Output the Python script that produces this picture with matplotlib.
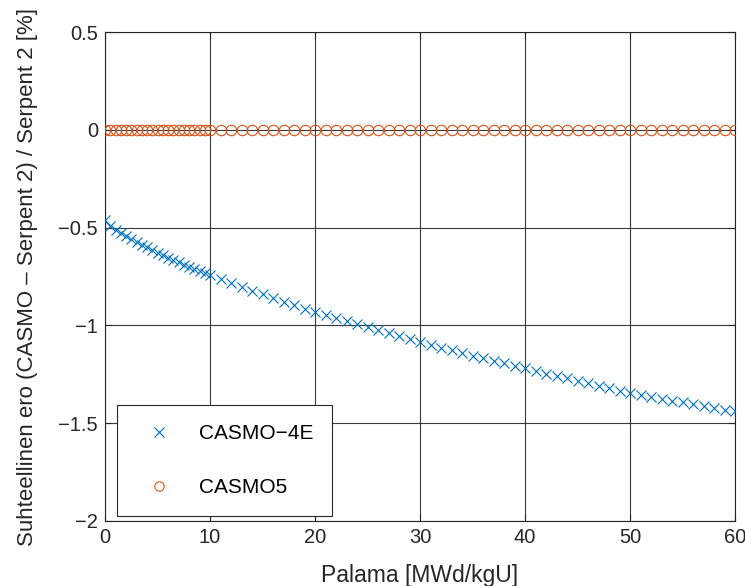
import matplotlib
matplotlib.use("Agg")
import matplotlib.pyplot as plt
import numpy as np

plt.rcParams['font.family'] = ['Liberation Sans', 'DejaVu Sans']
plt.rcParams['axes.unicode_minus'] = True

burnup = [0, 0.5, 1, 1.5, 2, 2.5, 3, 3.5, 4, 4.5, 5, 5.5, 6, 6.5, 7, 7.5, 8, 8.5, 9, 9.5,
          10, 11, 12, 13, 14, 15, 16, 17, 18, 19, 20, 21, 22, 23, 24, 25, 26, 27, 28, 29,
          30, 31, 32, 33, 34, 35, 36, 37, 38, 39, 40, 41, 42, 43, 44, 45, 46, 47, 48, 49,
          50, 51, 52, 53, 54, 55, 56, 57, 58, 59, 60]

casmo4e = [-0.460, -0.490, -0.510, -0.530, -0.545, -0.560, -0.575, -0.590, -0.600, -0.615,
           -0.630, -0.640, -0.655, -0.665, -0.675, -0.690, -0.700, -0.710, -0.720, -0.730,
           -0.740, -0.761, -0.782, -0.802, -0.822, -0.842, -0.861, -0.879, -0.897, -0.914,
           -0.930, -0.946, -0.962, -0.978, -0.994, -1.009, -1.024, -1.040, -1.055, -1.070,
           -1.085, -1.099, -1.113, -1.127, -1.140, -1.154, -1.168, -1.181, -1.194, -1.207,
           -1.220, -1.233, -1.246, -1.259, -1.271, -1.284, -1.296, -1.309, -1.321, -1.333,
           -1.345, -1.355, -1.365, -1.375, -1.385, -1.394, -1.403, -1.412, -1.421, -1.430,
           -1.440]

casmo5 = [0.0] * len(burnup)

xticks = [0, 10, 20, 30, 40, 50, 60]
yticks = [-2, -1.5, -1, -0.5, 0, 0.5]
ytick_labels = ['\u22122', '\u22121.5', '\u22121', '\u22120.5', '0', '0.5']

fig = plt.figure(figsize=(7.45, 5.86), dpi=100)
ax = fig.add_axes([105/745, 1 - 521/586, 630/745, 489/586])

ax.plot(burnup, casmo4e, linestyle='none', marker='x', markersize=7.5, markeredgewidth=0.8,
        color='#0072BD', label='CASMO\u22124E', zorder=3)
ax.plot(burnup, casmo5, linestyle='none', marker='o', markersize=7.5, markeredgewidth=0.8,
        markerfacecolor='none', color='#D95319', label='CASMO5', zorder=3)

ax.set_xlim(0, 60)
ax.set_ylim(-2, 0.5)
ax.set_xticks(xticks)
ax.set_yticks(yticks)
ax.set_yticklabels(ytick_labels)
ax.tick_params(direction='in', labelsize=14.5, length=5, width=0.8, top=True, right=True,
               colors='#262626', labelcolor='#262626', pad=5)
ax.grid(True, color='#262626', linewidth=0.8, alpha=0.9)
ax.set_axisbelow(True)
for s in ax.spines.values():
    s.set_color('#262626')
    s.set_linewidth(0.8)

ax.set_xlabel('Palama [MWd/kgU]', fontsize=16.5, color='#262626', labelpad=12)
ax.set_ylabel('Suhteellinen ero (CASMO \u2013 Serpent 2) / Serpent 2 [%]', fontsize=16,
              color='#262626', labelpad=15)

leg = ax.legend(loc='lower left', bbox_to_anchor=(12/630, 5/489), fontsize=15,
                frameon=True, fancybox=False, edgecolor='#262626', borderpad=0.9,
                labelspacing=1.7, handlelength=2.24, handletextpad=0.8, borderaxespad=0,
                markerscale=0.9)
leg.get_frame().set_linewidth(0.8)
leg.get_frame().set_alpha(1)

fig.savefig('out.png', dpi=100)
